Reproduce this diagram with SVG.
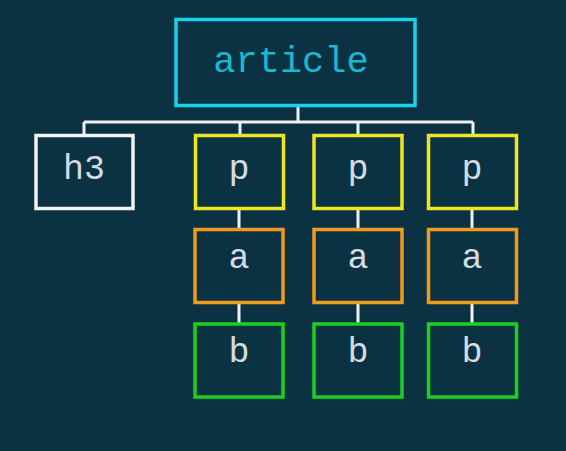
<svg xmlns="http://www.w3.org/2000/svg" width="566" height="451" viewBox="0 0 566 451">
<style>
.box{fill:none;stroke-width:3.5}
.root{stroke:#19d2ea}
.h{stroke:#f2f2f2}
.p{stroke:#eee622}
.a{stroke:#f09a1e}
.b{stroke:#1bd01f}
.t{font-family:"Liberation Mono","Courier New",monospace;fill:#d4dce0;text-anchor:middle}
.conn{stroke:#f0f0f0;stroke-width:3;fill:none}
</style>
<rect width="566" height="451" fill="#0b3243"/>
<g id="connectors">
<path class="conn" d="M298 106V122M84 122H473M84 122V135M240 122V135M358 122V135M473 122V135"/>
<path class="conn" d="M239 208V229M358 208V229M472 208V229M239 302V324M358 302V324M472 302V324"/>
</g>
<g id="article"><rect class="box root" x="176" y="19.5" width="239" height="86"/><text class="t" x="291" y="72" font-size="37" style="fill:#1cb8d2">article</text></g>
<g id="h3"><rect class="box h" x="36" y="135.5" width="97" height="73"/><text class="t" x="84" y="179" font-size="35">h3</text></g>
<g id="p1"><rect class="box p" x="195.5" y="135.5" width="88" height="73"/><text class="t" x="239" y="179" font-size="35">p</text></g>
<g id="p2"><rect class="box p" x="314" y="135.5" width="88" height="73"/><text class="t" x="358" y="179" font-size="35">p</text></g>
<g id="p3"><rect class="box p" x="428.5" y="135.5" width="88" height="73"/><text class="t" x="472" y="179" font-size="35">p</text></g>
<g id="a1"><rect class="box a" x="195" y="229.5" width="88" height="73"/><text class="t" x="239" y="268" font-size="35">a</text></g>
<g id="a2"><rect class="box a" x="314" y="229.5" width="88" height="73"/><text class="t" x="358" y="268" font-size="35">a</text></g>
<g id="a3"><rect class="box a" x="428.5" y="229.5" width="88" height="73"/><text class="t" x="472" y="268" font-size="35">a</text></g>
<g id="b1"><rect class="box b" x="195" y="324" width="88" height="73"/><text class="t" x="239" y="362" font-size="35">b</text></g>
<g id="b2"><rect class="box b" x="314" y="324" width="88" height="73"/><text class="t" x="358" y="362" font-size="35">b</text></g>
<g id="b3"><rect class="box b" x="428.5" y="324" width="88" height="73"/><text class="t" x="472" y="362" font-size="35">b</text></g>
</svg>
